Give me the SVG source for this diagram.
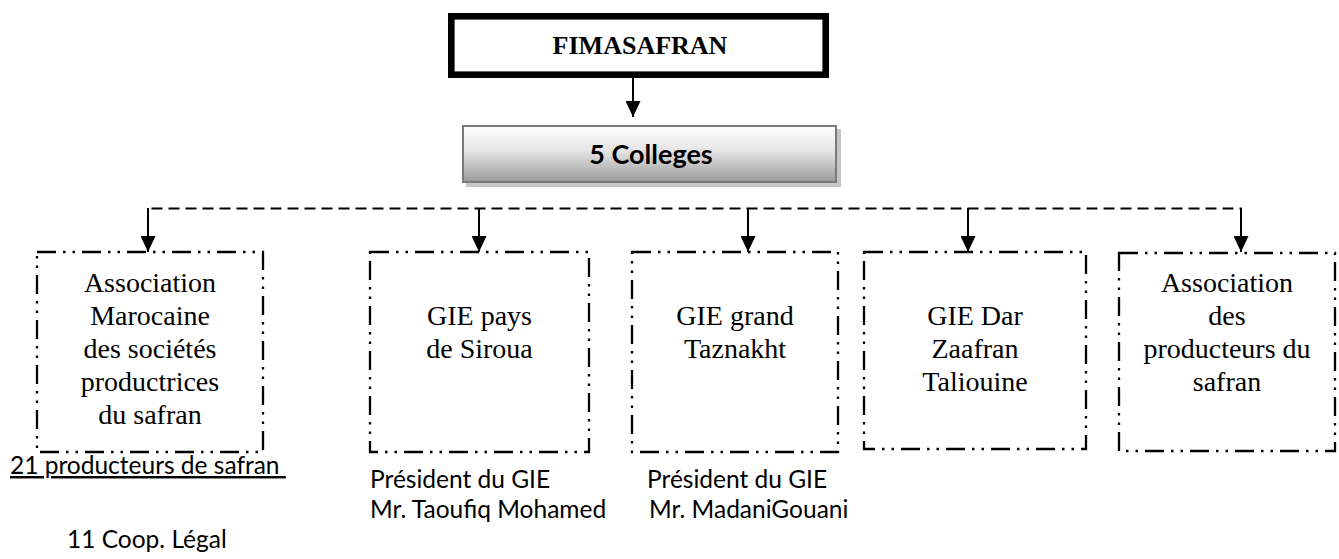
<svg xmlns="http://www.w3.org/2000/svg" width="1339" height="559" viewBox="0 0 1339 559">
<defs>
<linearGradient id="g5" x1="0" y1="0" x2="0" y2="1">
<stop offset="0" stop-color="#ffffff"/>
<stop offset="0.45" stop-color="#e4e4e4"/>
<stop offset="1" stop-color="#9a9a9a"/>
</linearGradient>
<marker id="ah" viewBox="0 0 16 15" refX="16" refY="7.5" markerWidth="16" markerHeight="15" orient="auto" markerUnits="userSpaceOnUse">
<path d="M0,0 L16,7.5 L0,15 z" fill="#000"/>
</marker>
<style>
.box{fill:none;stroke:#000;stroke-width:2.3;stroke-dasharray:19 7 2.5 7 2.5 7}
.bt{font-family:"Liberation Serif","Times New Roman",serif;font-size:28px;text-anchor:middle;fill:#000}
.ct{font-family:Lato,"Liberation Sans",sans-serif;font-size:24.5px;fill:#000}
.conn{stroke:#000;stroke-width:2;fill:none}
</style>
</defs>
<rect width="1339" height="559" fill="#fff"/>

<g id="fimasafran">
<rect x="451.3" y="16.3" width="374.4" height="58.4" fill="#fff" stroke="#000" stroke-width="6.6"/>
<text x="640" y="54" font-family="Liberation Serif,Times New Roman,serif" font-size="26" font-weight="bold" text-anchor="middle">FIMASAFRAN</text>
</g>

<g id="colleges">
<rect x="466" y="129" width="375" height="58" fill="#c6c6c6"/>
<rect x="463" y="126" width="373" height="56" fill="url(#g5)" stroke="#7a7a7a" stroke-width="2"/>
<text x="651" y="164" font-family="Lato,Liberation Sans,sans-serif" font-size="27" font-weight="bold" text-anchor="middle">5 Colleges</text>
</g>

<g id="connectors">
<line class="conn" x1="633" y1="78" x2="633" y2="117" marker-end="url(#ah)"/>
<polyline class="conn" points="148,222 148,208.5 1241,208.5 1241,222" stroke-dasharray="11 6"/>
<line class="conn" x1="148" y1="208" x2="148" y2="252" marker-end="url(#ah)"/>
<line class="conn" x1="479" y1="208" x2="479" y2="252" marker-end="url(#ah)"/>
<line class="conn" x1="748" y1="208" x2="748" y2="252" marker-end="url(#ah)"/>
<line class="conn" x1="968" y1="208" x2="968" y2="252" marker-end="url(#ah)"/>
<line class="conn" x1="1241" y1="208" x2="1241" y2="252" marker-end="url(#ah)"/>
</g>

<g id="assoc-marocaine">
<rect class="box" x="37" y="252" width="226" height="200"/>
<text class="bt" x="150" y="292">Association</text>
<text class="bt" x="150" y="325">Marocaine</text>
<text class="bt" x="150" y="358">des sociétés</text>
<text class="bt" x="150" y="391">productrices</text>
<text class="bt" x="150" y="424">du safran</text>
</g>

<g id="gie-siroua">
<rect class="box" x="370" y="252" width="219" height="200"/>
<text class="bt" x="479.5" y="325">GIE pays</text>
<text class="bt" x="479.5" y="358">de Siroua</text>
</g>

<g id="gie-taznakht">
<rect class="box" x="632" y="252" width="206" height="200"/>
<text class="bt" x="735" y="325">GIE grand</text>
<text class="bt" x="735" y="358">Taznakht</text>
</g>

<g id="gie-dar-zaafran">
<rect class="box" x="864" y="252" width="222" height="197"/>
<text class="bt" x="975" y="325">GIE Dar</text>
<text class="bt" x="975" y="358">Zaafran</text>
<text class="bt" x="975" y="391">Taliouine</text>
</g>

<g id="assoc-producteurs">
<rect class="box" x="1119" y="253" width="216" height="198"/>
<text class="bt" x="1227" y="292">Association</text>
<text class="bt" x="1227" y="325">des</text>
<text class="bt" x="1227" y="358">producteurs du</text>
<text class="bt" x="1227" y="391">safran</text>
</g>

<g id="notes">
<text class="ct" x="10" y="474" text-decoration="underline" xml:space="preserve">21 producteurs de safran </text>
<text class="ct" x="67" y="548">11 Coop. Légal</text>
<text class="ct" x="370" y="488">Président du GIE</text>
<text class="ct" x="370" y="518">Mr. Taoufiq Mohamed</text>
<text class="ct" x="647" y="488">Président du GIE</text>
<text class="ct" x="649" y="518">Mr. MadaniGouani</text>
</g>
</svg>
